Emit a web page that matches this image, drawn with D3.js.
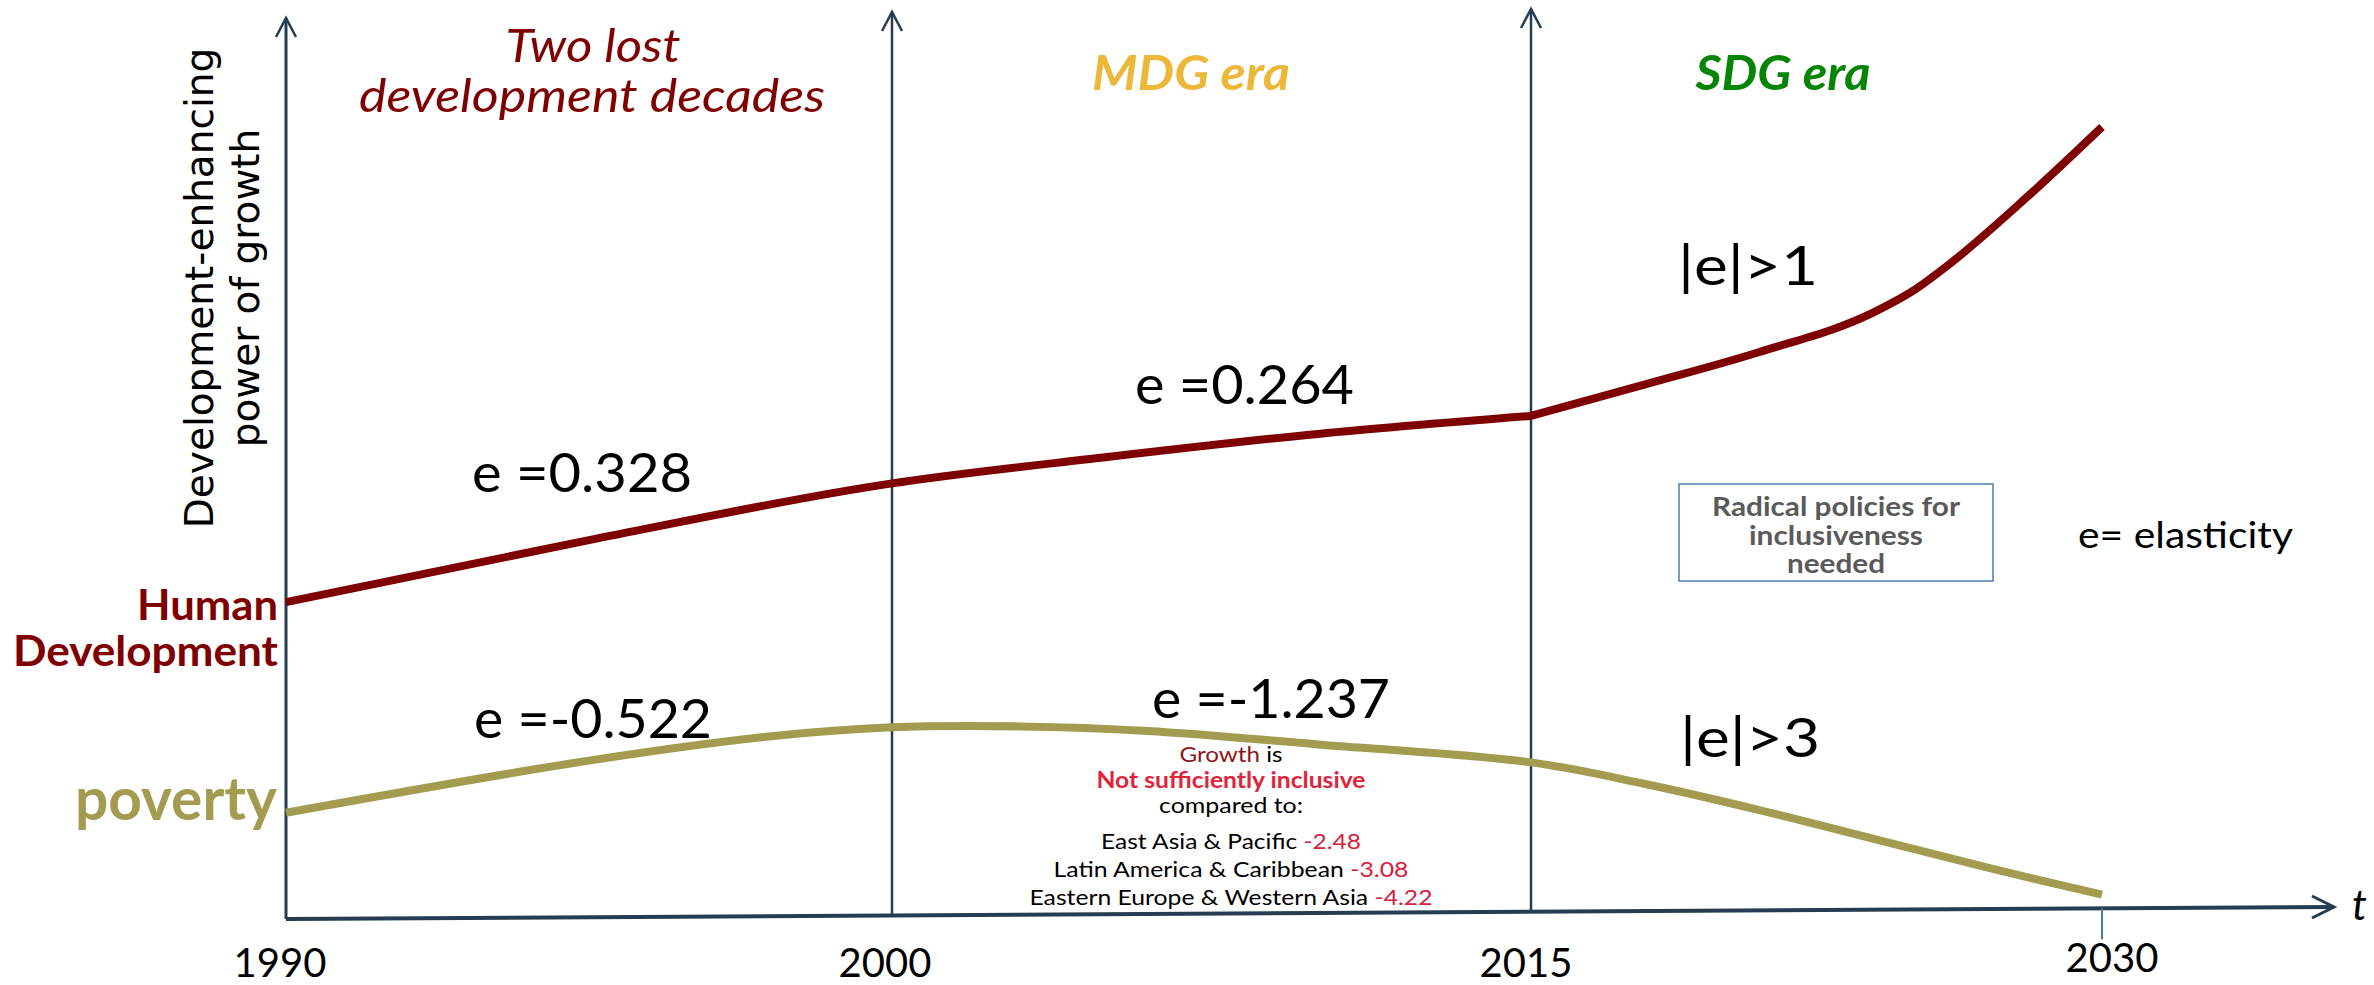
<!DOCTYPE html>
<html>
<head>
<meta charset="utf-8">
<script src="https://cdn.jsdelivr.net/npm/d3@7"></script>
<style>
  html, body { margin: 0; padding: 0; background: #ffffff; overflow: hidden; }
  text { white-space: pre; }
</style>
</head>
<body>
<svg id="chart" width="2374" height="985"></svg>
<script>
// ---- data -------------------------------------------------------------
const eraYears = [1990, 2000, 2015, 2030];
const tickLabels = ["1990", "2000", "2015", "2030"];
const eraTitles = [["Two lost", "development decades"], ["MDG era"], ["SDG era"]];

// Human development path (index units, 0 = time axis)
const hdYears  = [1990, 1995, 2000, 2005, 2010, 2015, 2018, 2021, 2024, 2025, 2026, 2028, 2030];
const hdValues = [35.2, 42.1, 48.4, 51.3, 53.9, 55.9, 59.4, 63.0, 67.4, 69.7, 72.8, 80.1, 88.0];

// Poverty path
const povertyYears  = [1990, 1995, 1998, 2000, 2003, 2006, 2010, 2015, 2018, 2021, 2024, 2027, 2030];
const povertyValues = [11.8, 17.6, 20.3, 21.3, 21.4, 20.9, 19.4, 17.4, 15.0, 12.1, 8.9, 5.7, 2.7];

// Growth elasticities by period
const hdElasticity = [0.328, 0.264];
const povertyElasticity = [-0.522, -1.237];
const targetLabels = ["|e|>1", "|e|>3"];

const regions = ["East Asia & Pacific", "Latin America & Caribbean", "Eastern Europe & Western Asia"];
const regionElasticity = [-2.48, -3.08, -4.22];

const policyLines = ["Radical policies for", "inclusiveness", "needed"];
const yTitleLines = ["Development-enhancing", "power of growth"];

// ---- setup ------------------------------------------------------------
const svg = d3.select("#chart");
const SANS = "Lato, 'Open Sans', sans-serif";
const AXIS = "#243d52";
const RED = "#7f0000";
const OLIVE = "#a39c50";

const x = d3.scaleLinear().domain(eraYears).range([286, 892, 1531, 2102]);
const y = d3.scaleLinear().domain([0, 100]).range([919, 19]);

// time axis is drawn very slightly rising to the right
const axisY0 = 919, axisY1 = 907, axisX1 = 2334;
const axisYAt = px => axisY0 + (axisY1 - axisY0) * (px - x(1990)) / (axisX1 - x(1990));

function put(sel, o) {
  const t = sel.append("text")
    .attr("x", o.x).attr("y", o.y)
    .attr("text-anchor", o.anchor || "start")
    .attr("transform", o.transform || null)
    .style("font-family", o.family || SANS)
    .style("font-size", o.size + "px")
    .style("font-weight", o.weight || 400)
    .style("font-style", o.italic ? "italic" : "normal")
    .attr("fill", o.fill || "#000");
  (o.parts || [[o.text, o.fill || "#000"]]).forEach(([s, c]) => t.append("tspan").attr("fill", c).text(s));
  if (o.width) t.attr("textLength", o.width).attr("lengthAdjust", "spacingAndGlyphs");
  return t;
}

// ---- axes and era dividers -------------------------------------------
const axes = svg.append("g").attr("fill", "none").attr("stroke", AXIS).attr("stroke-linejoin", "miter");

axes.append("path")
  .attr("d", `M${x(1990)},${axisY0}L${axisX1},${axisY1}`)
  .attr("stroke-width", 4);
axes.append("path")
  .attr("d", `M${axisX1 - 22},${axisY1 - 11}L${axisX1},${axisY1}L${axisX1 - 22},${axisY1 + 11}`)
  .attr("stroke-width", 3);

const dividerTops = [18, 12, 9];
eraYears.slice(0, 3).forEach((yr, i) => {
  const px = x(yr), top = dividerTops[i];
  axes.append("path")
    .attr("d", `M${px},${axisYAt(px)}L${px},${top}`)
    .attr("stroke-width", i === 0 ? 3 : 2.5);
  axes.append("path")
    .attr("d", `M${px - 10},${top + 19}L${px},${top}L${px + 10},${top + 19}`)
    .attr("stroke-width", 2.5);
});

// 2030 tick
svg.append("line")
  .attr("x1", x(2030)).attr("x2", x(2030))
  .attr("y1", axisYAt(x(2030))).attr("y2", axisYAt(x(2030)) + 31)
  .attr("stroke", "#4a7aa8").attr("stroke-width", 2);

// year labels
const labelShift = [-6, -7, -5, 10];
const labelBase = [977, 977, 977, 972];
tickLabels.forEach((lab, i) => {
  put(svg, { x: x(eraYears[i]) + labelShift[i], y: labelBase[i], text: lab, size: 40, anchor: "middle" });
});
put(svg, { x: 2352, y: 920, text: "t", size: 42, italic: true });

// ---- curves -----------------------------------------------------------
const line = d3.line().x(d => x(d[0])).y(d => y(d[1]));
const hd = hdYears.map((yr, i) => [yr, hdValues[i]]);
const pov = povertyYears.map((yr, i) => [yr, povertyValues[i]]);

svg.append("path")
  .datum(pov)
  .attr("d", line.curve(d3.curveCatmullRom.alpha(0.5)))
  .attr("fill", "none").attr("stroke", OLIVE).attr("stroke-width", 8);

svg.append("path")
  .datum(hd.filter(d => d[0] <= 2015))
  .attr("d", line.curve(d3.curveMonotoneX))
  .attr("fill", "none").attr("stroke", RED).attr("stroke-width", 8);
svg.append("path")
  .datum(hd.filter(d => d[0] >= 2015))
  .attr("d", line.curve(d3.curveMonotoneX))
  .attr("fill", "none").attr("stroke", RED).attr("stroke-width", 8);

// ---- titles -----------------------------------------------------------
put(svg, { x: 593, y: 62, text: eraTitles[0][0], size: 46, italic: true, fill: RED, anchor: "middle", width: 175 });
put(svg, { x: 592, y: 112, text: eraTitles[0][1], size: 46, italic: true, fill: RED, anchor: "middle", width: 466 });
put(svg, { x: 1191, y: 90, text: eraTitles[1][0], size: 47, italic: true, weight: 700, fill: "#ebb83a", anchor: "middle", width: 198 });
put(svg, { x: 1783, y: 90, text: eraTitles[2][0], size: 47, italic: true, weight: 700, fill: "#068406", anchor: "middle", width: 175 });

// vertical axis title
[213, 259].forEach((bx, i) => {
  put(svg, {
    x: bx, y: 288, text: yTitleLines[i], size: 39, family: "'DejaVu Sans', sans-serif",
    anchor: "middle", transform: `rotate(-90,${bx},288)`
  });
});

// series names
put(svg, { x: 278, y: 620, text: "Human", size: 42, weight: 700, fill: RED, anchor: "end", width: 141 });
put(svg, { x: 278, y: 666, text: "Development", size: 42, weight: 700, fill: RED, anchor: "end", width: 265 });
put(svg, { x: 277, y: 820, text: "poverty", size: 59, weight: 700, fill: OLIVE, anchor: "end", width: 202 });

// ---- elasticity labels ------------------------------------------------
const fmt = v => "e =" + v;
put(svg, { x: 472, y: 492, text: fmt(hdElasticity[0]), size: 54, width: 220 });
put(svg, { x: 1135, y: 404, text: fmt(hdElasticity[1]), size: 54, width: 219 });
put(svg, { x: 1678, y: 285, text: targetLabels[0], size: 54, width: 140 });
put(svg, { x: 474, y: 738, text: fmt(povertyElasticity[0]), size: 54, width: 238 });
put(svg, { x: 1152, y: 718, text: fmt(povertyElasticity[1]), size: 54, width: 238 });
put(svg, { x: 1680, y: 757, text: targetLabels[1], size: 54, width: 140 });

// ---- inclusiveness note ------------------------------------------------
const noteX = 1231;
put(svg, { x: noteX, y: 762, parts: [["Growth", "#8e1616"], [" is", "#000"]], size: 22, anchor: "middle", width: 103 });
put(svg, { x: noteX, y: 788, text: "Not sufficiently inclusive", size: 22, weight: 700, fill: "#e0243c", anchor: "middle", width: 269 });
put(svg, { x: noteX, y: 813, text: "compared to:", size: 22, anchor: "middle", width: 144 });
const regionBase = [849, 877, 905];
const regionWidth = [260, 355, 403];
regions.forEach((r, i) => {
  put(svg, {
    x: noteX, y: regionBase[i], size: 22, anchor: "middle", width: regionWidth[i],
    parts: [[r + " ", "#000"], [String(regionElasticity[i]), "#d6213a"]]
  });
});

// ---- policy box and legend note -------------------------------------
svg.append("rect")
  .attr("x", 1679).attr("y", 484).attr("width", 314).attr("height", 97)
  .attr("fill", "#fff").attr("stroke", "#4f7fb0").attr("stroke-width", 1.5);
const policyBase = [516, 545, 573];
const policyWidth = [248, 174, 98];
policyLines.forEach((s, i) => {
  put(svg, { x: 1836, y: policyBase[i], text: s, size: 26, weight: 700, fill: "#5a5a5a", anchor: "middle", width: policyWidth[i] });
});
put(svg, { x: 2078, y: 548, text: "e= elasticity", size: 36, width: 215 });
</script>
</body>
</html>
